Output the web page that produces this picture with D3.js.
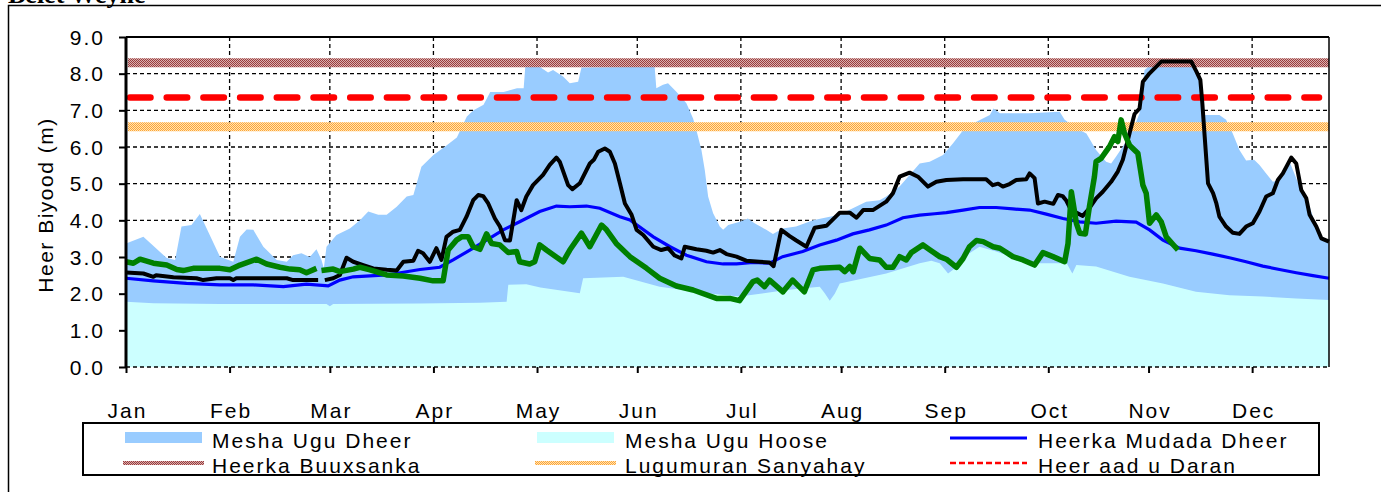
<!DOCTYPE html>
<html><head><meta charset="utf-8">
<script src="https://cdn.jsdelivr.net/npm/d3@7"></script>
<style>
body{margin:0;background:#fff;}
svg{display:block;}
text{font-family:"Liberation Sans",Arial,sans-serif;}
</style></head>
<body><svg id="c" width="1381" height="492"></svg>
<script>
// ---- data (x = day index on the chart's 360-day axis, y = water level in m) ----
const monthLabels = ["Jan","Feb","Mar","Apr","May","Jun","Jul","Aug","Sep","Oct","Nov","Dec"];
const monthTickDays = [0,31,61,92,123,153,184,214,245,276,306,337];
const yTicks = [0,1,2,3,4,5,6,7,8,9];

const meshaUguDheer = [[0,3.37],[5.2,3.55],[12.2,2.97],[14.7,2.92],[16.6,3.83],[19.6,3.87],[22.1,4.17],[28.1,3.01],[32.1,2.87],[34.1,3.55],[36.1,3.75],[38.1,3.74],[41.1,3.28],[45.1,2.92],[48.1,2.87],[50,3.05],[52.5,3.1],[55,3.0],[57,3.21],[58.5,2.92],[59.2,2.69],[60,3.28],[63,3.6],[67,3.78],[70,4.0],[72.5,4.24],[75.5,4.15],[78,4.15],[81,4.37],[84,4.65],[86,4.69],[88.4,5.46],[92,5.78],[96,6.05],[99,6.26],[102,6.83],[104,7.0],[107,7.15],[109,7.5],[113,7.5],[117,7.6],[119,7.6],[119.5,8.2],[123.8,8.19],[126.3,8.03],[127.8,8.1],[130.8,7.92],[132.8,7.74],[135.3,7.78],[136.3,8.17],[158.2,8.19],[158.7,7.6],[160.7,7.7],[162.2,7.74],[164.7,7.51],[167.7,7.19],[169.7,6.78],[170.7,6.46],[172.2,5.92],[173.2,5.37],[174.2,4.65],[175.7,4.19],[177.7,3.83],[178.7,3.74],[180.2,3.87],[183.7,3.96],[186.1,4.05],[188.1,3.92],[191.6,3.74],[193.6,3.63],[196.5,3.78],[200.5,3.83],[205.6,4.0],[209.5,4.08],[213.4,4.15],[217.5,4.33],[221.5,4.51],[225.5,4.55],[227.5,4.65],[231.5,4.92],[237.5,5.55],[240.5,5.6],[244.5,5.78],[247.5,6.1],[250.5,6.46],[254.5,6.69],[258.5,6.87],[259.6,7.05],[261.5,6.92],[270.4,6.92],[279.4,6.96],[280.9,6.74],[284.4,6.51],[287.4,6.37],[290.3,5.92],[293.3,5.6],[294.8,5.55],[296.3,5.74],[299.3,6.15],[301.3,6.46],[303.3,6.92],[304.8,8.1],[306,8.19],[320.2,8.19],[321.7,7.83],[322.7,6.87],[327.2,6.87],[329.2,6.74],[331.2,6.37],[333.2,5.92],[335.2,5.63],[337.6,5.65],[339.2,5.51],[341.2,5.28],[343.2,5.05],[345.2,5.1],[348.2,5.6],[351.2,4.92],[354.2,4.37],[356.2,3.83],[358.2,3.5],[360,3.37]];

const meshaUguHoose = [[0,1.78],[8.2,1.74],[28.1,1.72],[60,1.72],[61,1.66],[62,1.72],[87.9,1.73],[105.9,1.75],[113.9,1.78],[114.4,2.24],[119.8,2.26],[124,2.17],[135.8,2.01],[136.8,2.42],[148.8,2.46],[159.7,2.19],[173.7,2.01],[183.6,1.92],[197.6,2.1],[207.6,2.19],[209.1,2.01],[210.6,1.81],[212.1,2.0],[213.6,2.28],[227.5,2.55],[237.5,2.83],[241,2.9],[243.5,2.83],[246,2.55],[248.5,2.72],[252.4,3.1],[255.4,3.28],[260.4,3.15],[270.4,2.83],[281.5,2.83],[283.2,2.55],[284.4,2.78],[290.3,2.74],[300.3,2.46],[310.3,2.28],[320.2,2.05],[330.2,1.96],[340.2,1.92],[350.2,1.87],[360,1.83]];

const heerkaMudadaDheer = [[0,2.42],[8.2,2.35],[18.1,2.28],[28.1,2.24],[38.1,2.24],[47.1,2.19],[54,2.26],[60.5,2.21],[64,2.37],[68,2.46],[78,2.51],[88,2.66],[93.9,2.72],[97.9,2.92],[102.9,3.19],[107.9,3.46],[112.9,3.74],[117.8,3.96],[123.8,4.24],[128.8,4.39],[132.8,4.37],[137.8,4.39],[141.8,4.33],[147.8,4.1],[150.8,4.01],[157.8,3.55],[162.8,3.28],[167.7,3.05],[173.7,2.87],[178.7,2.81],[182.7,2.81],[187.6,2.85],[192.6,2.83],[196.5,3.01],[202.5,3.15],[207.6,3.33],[212.6,3.46],[217.5,3.63],[222.5,3.74],[227.5,3.87],[232.5,4.07],[237.5,4.14],[242,4.18],[245.5,4.21],[250.5,4.28],[255.4,4.35],[260.4,4.35],[265.4,4.31],[270.4,4.28],[275.4,4.17],[280.4,4.05],[285.4,3.96],[290.3,3.92],[296.3,3.98],[302.3,3.95],[306.3,3.74],[310.3,3.46],[315.3,3.24],[320.2,3.17],[325.2,3.08],[330.2,2.98],[335.2,2.87],[340.2,2.75],[345.2,2.66],[350.2,2.57],[355.2,2.49],[360,2.42]];

const heerkaBuuxsanka = 8.3;
const lugumuranSanyahay = 6.55;
const heerAadUDaran = 7.35;

const currentYear = [[0,2.58],[5.2,2.55],[8.2,2.46],[9,2.5],[14.2,2.45],[21.1,2.42],[23.1,2.37],[27.1,2.42],[31.1,2.42],[32.1,2.37],[33,2.42],[48.1,2.42],[50,2.37],[57.5,2.37],null,[59.5,2.37],[62,2.42],[64,2.51],[66,2.98],[68,2.87],[71,2.78],[74,2.69],[78,2.65],[81,2.63],[83,2.87],[86,2.9],[87.4,3.17],[88.9,3.1],[90.9,2.87],[92.9,3.24],[94.4,2.92],[95.9,3.55],[97.9,3.69],[99.9,3.74],[101.9,4.1],[103.9,4.55],[105.4,4.69],[106.9,4.66],[108.4,4.46],[110.4,4.05],[111.9,3.83],[113.4,3.46],[114.9,3.45],[116.9,4.55],[118.3,4.28],[119.8,4.65],[121.8,4.96],[124.8,5.24],[126.8,5.51],[128.8,5.71],[129.8,5.6],[132.3,4.96],[133.6,4.85],[135.8,5.01],[138.8,5.55],[140,5.65],[141.3,5.87],[143.3,5.96],[144.8,5.87],[146.3,5.55],[147.8,5.01],[149.3,4.46],[151.3,4.15],[152.8,3.74],[154.8,3.6],[157.8,3.28],[160.2,3.19],[162.2,3.24],[164.2,3.04],[166.2,2.96],[167.2,3.28],[170.7,3.21],[173.7,3.17],[175.7,3.12],[177.7,3.19],[179.7,3.08],[182.7,3.01],[185.6,2.9],[189.6,2.87],[192.6,2.85],[193.8,2.75],[196.1,3.74],[198.6,3.57],[200.6,3.45],[203.6,3.28],[206.1,3.8],[209.6,3.85],[213.6,4.21],[216.6,4.21],[218.6,4.07],[220.6,4.28],[223.5,4.28],[227.5,4.51],[229.5,4.74],[231.5,5.19],[234.5,5.3],[237,5.19],[240,4.92],[242.5,5.05],[245.5,5.1],[250.5,5.12],[257.4,5.12],[259.4,4.96],[261,5.0],[262.4,4.92],[264.4,4.99],[266.4,5.1],[269.4,5.12],[270.4,5.28],[271.9,5.15],[272.9,4.46],[274.9,4.51],[277.5,4.45],[278.9,4.69],[280.3,4.66],[281.3,4.55],[282.8,4.28],[284.8,4.19],[286.3,4.12],[288.3,4.33],[290.3,4.6],[292.3,4.78],[294.8,5.05],[296.8,5.33],[298.3,5.65],[300.3,6.37],[301.8,6.9],[303.3,7.05],[304.3,7.78],[306.3,8.01],[309.8,8.33],[318.8,8.33],[320.3,8.06],[321.5,7.83],[322.1,7.19],[322.8,6.28],[323.8,5.01],[325.3,4.74],[326.3,4.46],[327.2,4.1],[329.2,3.83],[331.2,3.66],[333.2,3.63],[335.2,3.83],[337.2,3.92],[339.2,4.24],[341.2,4.65],[343.2,4.74],[344.7,5.1],[346.2,5.28],[348.7,5.71],[350.2,5.55],[351.7,4.83],[353.2,4.6],[354.2,4.15],[356.2,3.83],[357.7,3.51],[360,3.42]];

const otherYear = [[0,2.87],[2.2,2.83],[4.2,2.94],[8.2,2.83],[12.2,2.78],[15.2,2.66],[17.1,2.63],[20.1,2.69],[28.1,2.69],[31.1,2.65],[34.1,2.78],[39.1,2.94],[42.1,2.81],[46.1,2.72],[49.1,2.67],[52,2.65],[54,2.57],[57,2.69],null,[58.5,2.63],[62,2.67],[64,2.6],[68,2.67],[70,2.72],[73,2.65],[78,2.51],[83,2.48],[88,2.42],[91.9,2.35],[94.9,2.35],[96.4,3.19],[98.9,3.46],[100.4,3.55],[102.4,3.55],[103.9,3.28],[105.9,3.21],[107.9,3.63],[109.4,3.37],[111.9,3.33],[114.4,3.12],[116.9,3.15],[117.8,2.87],[120.8,2.81],[122.3,2.87],[123.8,3.33],[125.8,3.19],[130.8,2.87],[132.8,3.19],[136.3,3.65],[138.8,3.28],[142.3,3.87],[143.8,3.74],[146.7,3.37],[150.8,3.01],[155.8,2.69],[159.7,2.42],[164.7,2.21],[169.7,2.1],[176.7,1.87],[180.7,1.87],[183.6,1.81],[187.6,2.33],[188.9,2.37],[191.1,2.19],[192.6,2.37],[196.6,2.05],[199.5,2.37],[203,2.05],[205.6,2.65],[207.6,2.69],[213.6,2.72],[215.1,2.6],[216.6,2.74],[217.6,2.6],[219.6,3.24],[222.5,2.96],[225.5,2.92],[227.5,2.72],[229.5,2.72],[231.5,3.01],[233.5,2.92],[235,3.12],[238.5,3.33],[240.5,3.2],[243.5,3.01],[245.5,2.94],[248.5,2.72],[250.5,2.96],[252.4,3.28],[254.5,3.45],[256.5,3.42],[259.5,3.28],[261.5,3.24],[265.4,3.01],[268.4,2.92],[271.9,2.78],[274.4,3.12],[277.4,3.01],[280.9,2.87],[281.9,3.37],[282.9,4.78],[284.4,3.92],[285.4,3.65],[287.1,3.63],[288.3,4.37],[289.8,5.19],[290.3,5.6],[291.8,5.69],[294.3,6.01],[295.8,6.28],[296.8,6.15],[297.8,6.74],[298.8,6.37],[300.3,6.05],[302.8,5.83],[304.3,4.96],[305.3,4.74],[306.3,3.92],[308.3,4.15],[309.8,3.96],[311.3,3.55],[314.8,3.19]];

const legendItems = [
  {label:"Mesha Ugu Dheer", kind:"area", color:"#99CCFF"},
  {label:"Mesha Ugu Hoose", kind:"area", color:"#CCFFFF"},
  {label:"Heerka Mudada Dheer", kind:"line", color:"#0000FF"},
  {label:"Heerka Buuxsanka", kind:"band", color:"url(#patRed)"},
  {label:"Lugumuran Sanyahay", kind:"band", color:"url(#patOrange)"},
  {label:"Heer aad u Daran", kind:"dash", color:"#FF0000"}
];

// ---- drawing ----
const svg = d3.select("#c");
const L = 126, R = 1329, T = 37, B = 367;
const x = d3.scaleLinear().domain([0,360]).range([L,R]);
const y = d3.scaleLinear().domain([0,9]).range([B,T]);

const defs = svg.append("defs");
function pattern(id, bg, fg){
  const p = defs.append("pattern").attr("id",id).attr("width",2).attr("height",2).attr("patternUnits","userSpaceOnUse");
  p.append("rect").attr("width",2).attr("height",2).attr("fill",bg);
  p.append("rect").attr("width",1).attr("height",1).attr("fill",fg);
  p.append("rect").attr("x",1).attr("y",1).attr("width",1).attr("height",1).attr("fill",fg);
}
pattern("patRed","#d9b0b0","#9a3c3c");
pattern("patOrange","#ffe2b8","#ffa733");

// outer frame & title
svg.append("rect").attr("x",8.5).attr("y",5.5).attr("width",1400).attr("height",500)
  .attr("fill","none").attr("stroke","#000").attr("stroke-width",1.5);
svg.append("text").attr("x",8).attr("y",3).text("Belet Weyne")
  .style("font-family","'Liberation Serif','Times New Roman',serif").style("font-weight","bold").style("font-size","26px");

// gridlines (behind data)
const grid = svg.append("g").attr("stroke","#000").attr("stroke-width",1.3).attr("stroke-dasharray","4,3");
grid.selectAll("line.h").data(yTicks.filter(v=>v>0 && v<9)).join("line")
  .attr("x1",L).attr("x2",R).attr("y1",d=>y(d)).attr("y2",d=>y(d));
grid.selectAll("line.v").data(monthTickDays.slice(1)).join("line")
  .attr("x1",d=>x(d)).attr("x2",d=>x(d)).attr("y1",T).attr("y2",B);

// areas
const area = d3.area().x(d=>x(d[0])).y0(y(0)).y1(d=>y(d[1]));
svg.append("path").datum(meshaUguDheer).attr("d",area).attr("fill","#99CCFF");
svg.append("path").datum(meshaUguHoose).attr("d",area).attr("fill","#CCFFFF");

// threshold bands
svg.append("line").attr("x1",L+2).attr("x2",R).attr("y1",y(heerkaBuuxsanka)).attr("y2",y(heerkaBuuxsanka))
  .attr("stroke","url(#patRed)").attr("stroke-width",9);
svg.append("line").attr("x1",L+2).attr("x2",R).attr("y1",y(lugumuranSanyahay)).attr("y2",y(lugumuranSanyahay))
  .attr("stroke","url(#patOrange)").attr("stroke-width",9);
svg.append("line").attr("x1",L+4).attr("x2",R-10).attr("y1",y(heerAadUDaran)).attr("y2",y(heerAadUDaran))
  .attr("stroke","#FF0000").attr("stroke-width",6.5).attr("stroke-linecap","round").attr("stroke-dasharray","20.5,16.2");

// lines
const line = d3.line().defined(d=>d!==null).x(d=>x(d[0])).y(d=>y(d[1]));
svg.append("path").datum(heerkaMudadaDheer).attr("d",line).attr("fill","none").attr("stroke","#0000FF").attr("stroke-width",3.2);
svg.append("path").datum(currentYear).attr("d",line).attr("fill","none").attr("stroke","#000").attr("stroke-width",4).attr("stroke-linejoin","round");
svg.append("path").datum(otherYear).attr("d",line).attr("fill","none").attr("stroke","#008000").attr("stroke-width",5.5).attr("stroke-linejoin","round");

// bottom dashed line at 0 on top, plot frame
svg.append("line").attr("x1",L).attr("x2",R).attr("y1",B).attr("y2",B).attr("stroke","#000")
  .attr("stroke-width",1.5).attr("stroke-dasharray","4,3");
svg.append("line").attr("x1",L).attr("x2",R).attr("y1",T).attr("y2",T).attr("stroke","#000").attr("stroke-width",2);
svg.append("line").attr("x1",R).attr("x2",R).attr("y1",T).attr("y2",B).attr("stroke","#000").attr("stroke-width",1.5);

// y axis
const yAxis = svg.append("g").attr("transform",`translate(${L},0)`)
  .call(d3.axisLeft(y).tickValues(yTicks).tickFormat(d3.format(".1f")).tickSize(7).tickPadding(0));
yAxis.select(".domain").attr("stroke-width",3).attr("d",`M0,${T}V${B}`);
yAxis.selectAll(".tick line").attr("stroke-width",2);
yAxis.selectAll(".tick text").attr("x",-21).attr("dy","0.34em")
  .style("font-size","21px").style("letter-spacing","2px").attr("fill","#000");

// x axis
const xAxis = svg.append("g").attr("transform",`translate(0,${B})`)
  .call(d3.axisBottom(x).tickValues(monthTickDays).tickFormat((d,i)=>monthLabels[i]).tickSize(6).tickPadding(0));
xAxis.select(".domain").remove();
xAxis.selectAll(".tick line").attr("stroke-width",2);
xAxis.selectAll(".tick text").attr("y",51).attr("dy",0).attr("dx",1)
  .style("font-size","21px").style("letter-spacing","2px").attr("fill","#000");

// y title
svg.append("text").attr("transform","translate(53,205) rotate(-90)").attr("text-anchor","middle")
  .style("font-size","21px").style("letter-spacing","1.5px").text("Heer Biyood (m)");

// legend
const lg = svg.append("g");
lg.append("rect").attr("x",83).attr("y",423).attr("width",1236).attr("height",52)
  .attr("fill","#fff").attr("stroke","#000").attr("stroke-width",2);
const colSw = [125,537,950], colTx = [212,625,1038], rowBase = [448,473];
legendItems.forEach((it,i)=>{
  const c = i%3, r = Math.floor(i/3);
  const sx = colSw[c], ex = sx+77, cy = rowBase[r]-10;
  if(it.kind==="area"){
    lg.append("rect").attr("x",sx).attr("y",cy-6).attr("width",77).attr("height",11).attr("fill",it.color);
  } else if(it.kind==="line"){
    lg.append("line").attr("x1",sx).attr("x2",ex).attr("y1",cy).attr("y2",cy).attr("stroke",it.color).attr("stroke-width",3);
  } else if(it.kind==="band"){
    lg.append("line").attr("x1",sx-2).attr("x2",ex+2).attr("y1",cy).attr("y2",cy).attr("stroke",it.color).attr("stroke-width",4);
  } else {
    lg.append("line").attr("x1",sx).attr("x2",ex).attr("y1",cy).attr("y2",cy).attr("stroke",it.color).attr("stroke-width",2.5).attr("stroke-dasharray","6,3");
  }
  lg.append("text").attr("x",colTx[c]).attr("y",rowBase[r]).style("font-size","21px").style("letter-spacing","2px").text(it.label);
});
</script></body></html>
